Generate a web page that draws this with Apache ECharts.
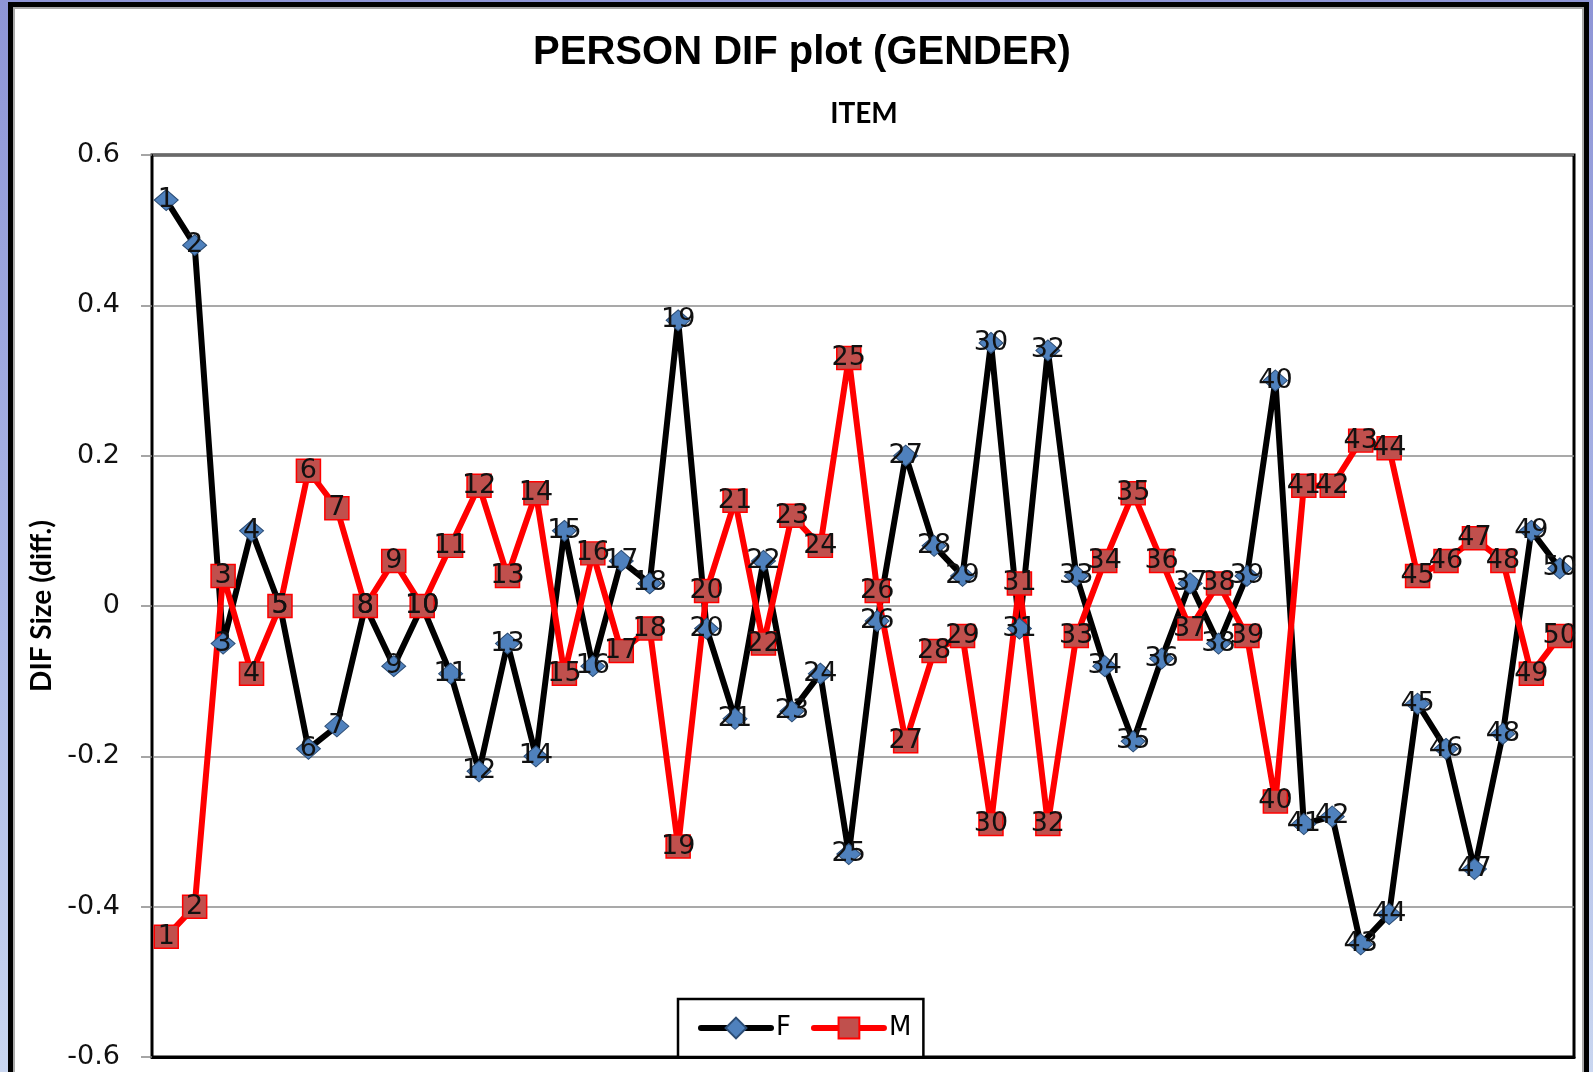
<!DOCTYPE html>
<html>
<head>
<meta charset="utf-8">
<script src="https://cdn.jsdelivr.net/npm/echarts@6/dist/echarts.min.js"></script>
<style>
  html, body { margin: 0; padding: 0; }
  body {
    width: 1593px; height: 1072px; overflow: hidden; position: relative;
    background: linear-gradient(to bottom, #8e95d6 0%, #aab6e6 55%, #c9d6f0 100%);
  }
  .frame {
    position: absolute; left: 8px; top: 2px; width: 1581px; height: 1200px;
    box-sizing: border-box; border: 5px solid #000; background: #fff;
    box-shadow: inset 0 0 0 2px #a9a9a9;
  }
  #chart { position: absolute; left: 0; top: 0; width: 1593px; height: 1072px; }
</style>
</head>
<body>
<div class="frame"></div>
<div id="chart"></div>
<script>
  // item numbers on the x axis
  var items = ['1','2','3','4','5','6','7','8','9','10',
    '11','12','13','14','15','16','17','18','19','20',
    '21','22','23','24','25','26','27','28','29','30',
    '31','32','33','34','35','36','37','38','39','40',
    '41','42','43','44','45','46','47','48','49','50'];

  // DIF size per item
  var femaleDif = [0.54, 0.48, -0.05, 0.10, 0.00, -0.19, -0.16, 0.00, -0.08, 0.00,
    -0.09, -0.22, -0.05, -0.20, 0.10, -0.08, 0.06, 0.03, 0.38, -0.03,
    -0.15, 0.06, -0.14, -0.09, -0.33, -0.02, 0.20, 0.08, 0.04, 0.35,
    -0.03, 0.34, 0.04, -0.08, -0.18, -0.07, 0.03, -0.05, 0.04, 0.30,
    -0.29, -0.28, -0.45, -0.41, -0.13, -0.19, -0.35, -0.17, 0.10, 0.05];

  var maleDif = [-0.44, -0.40, 0.04, -0.09, 0.00, 0.18, 0.13, 0.00, 0.06, 0.00,
    0.08, 0.16, 0.04, 0.15, -0.09, 0.07, -0.06, -0.03, -0.32, 0.02,
    0.14, -0.05, 0.12, 0.08, 0.33, 0.02, -0.18, -0.06, -0.04, -0.29,
    0.03, -0.29, -0.04, 0.06, 0.15, 0.06, -0.03, 0.03, -0.04, -0.26,
    0.16, 0.16, 0.22, 0.21, 0.04, 0.06, 0.09, 0.06, -0.09, -0.04];

  var myChart = echarts.init(document.getElementById('chart'));

  var labelStyle = {
    show: true,
    position: 'inside',
    formatter: function (p) { return p.name; },
    fontFamily: 'DejaVu Sans',
    fontSize: 27,
    color: '#111'
  };

  myChart.setOption({
    animation: false,
    backgroundColor: 'transparent',
    title: [
      {
        text: 'PERSON DIF plot (GENDER)',
        left: 802,
        top: 33,
        padding: 0,
        textAlign: 'center',
        textStyle: {
          fontFamily: 'Liberation Sans',
          fontWeight: 'bold',
          fontSize: 40,
          lineHeight: 40,
          color: '#000'
        }
      },
      {
        text: 'ITEM',
        left: 864,
        top: 100,
        padding: 0,
        textAlign: 'center',
        textStyle: {
          fontFamily: 'Lato',
          fontWeight: 'bold',
          fontSize: 28,
          lineHeight: 28,
          color: '#000'
        }
      }
    ],
    legend: {
      left: 678,
      top: 999,
      orient: 'horizontal',
      padding: [16, 12, 16, 20],
      itemGap: 20,
      itemWidth: 70,
      itemHeight: 26,
      backgroundColor: '#fff',
      borderColor: '#000',
      borderWidth: 2.5,
      borderRadius: 0,
      lineStyle: { width: 6, cap: 'round' },
      textStyle: {
        fontFamily: 'DejaVu Sans',
        fontSize: 26,
        color: '#000'
      }
    },
    grid: {
      left: 152,
      right: 19,
      top: 155,
      bottom: 15,
      show: true,
      borderColor: '#000',
      borderWidth: 3
    },
    xAxis: {
      type: 'category',
      data: items,
      boundaryGap: true,
      axisLine: { onZero: false, lineStyle: { color: '#000', width: 3 } },
      axisTick: { show: false },
      axisLabel: { show: false },
      splitLine: { show: false }
    },
    yAxis: {
      type: 'value',
      min: -0.6,
      max: 0.6,
      interval: 0.2,
      name: 'DIF Size (diff.)',
      nameLocation: 'middle',
      nameRotate: 90,
      nameGap: 92,
      nameTextStyle: {
        fontFamily: 'Lato',
        fontWeight: 'bold',
        fontSize: 28,
        color: '#000'
      },
      axisLine: { show: true, lineStyle: { color: '#000', width: 2 } },
      axisTick: { show: true, length: 11, lineStyle: { color: '#888', width: 1.5 } },
      axisLabel: {
        margin: 32,
        fontFamily: 'DejaVu Sans',
        fontSize: 27,
        color: '#111',
        formatter: function (v) { return String(Math.round(v * 10) / 10); }
      },
      splitLine: { show: true, lineStyle: { color: '#8c8c8c', width: 1.5 } }
    },
    series: [
      {
        name: 'F',
        type: 'line',
        data: femaleDif,
        symbol: 'diamond',
        symbolSize: [24, 21],
        showAllSymbol: true,
        lineStyle: { color: '#000', width: 6 },
        itemStyle: { color: '#4F81BD', borderColor: '#2c4d75', borderWidth: 1 },
        label: labelStyle,
        emphasis: { disabled: true }
      },
      {
        name: 'M',
        type: 'line',
        data: maleDif,
        symbol: 'rect',
        symbolSize: [24, 23],
        showAllSymbol: true,
        lineStyle: { color: '#ff0000', width: 6 },
        itemStyle: { color: '#C0504D', borderColor: '#ff0000', borderWidth: 1.5 },
        label: labelStyle,
        emphasis: { disabled: true }
      }
    ]
  });
</script>
</body>
</html>
